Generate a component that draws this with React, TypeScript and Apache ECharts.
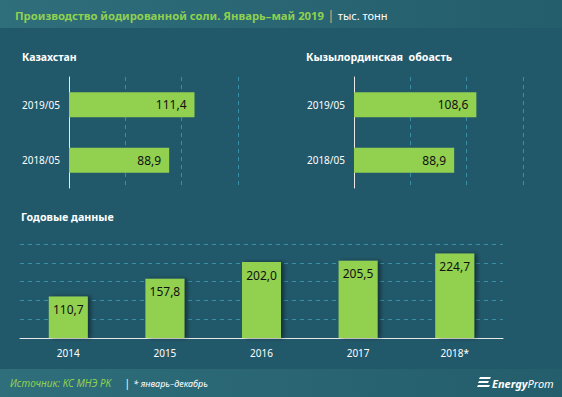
import React, { useEffect, useRef } from "react";
import * as echarts from "echarts";

const periodCats = ["2018/05", "2019/05"];
const kzValues = [88.9, 111.4];
const kyzValues = [88.9, 108.6];
const yearCats = ["2014", "2015", "2016", "2017", "2018*"];
const yearValues = [110.7, 157.8, 202.0, 205.5, 224.7];

const BG = "#22596a";
const GREEN = "#92d050";
const GRID = "#3a8fa8";
const FONT = "'Noto Sans', sans-serif";

const fmt = (v: number) => v.toFixed(1).replace(".", ",");

export default function App() {
  const ref = useRef<HTMLDivElement>(null);
  useEffect(() => {
    if (!ref.current) return;
    const chart = echarts.init(ref.current, null, { renderer: "svg" });
    const hBarSeries = (data: number[], idx: number) => ({
      type: "bar",
      xAxisIndex: idx,
      yAxisIndex: idx,
      data,
      barWidth: 25,
      itemStyle: { color: GREEN },
      label: {
        show: true,
        position: "insideRight",
        distance: 8,
        color: "#111",
        fontSize: 12,
        fontFamily: FONT,
        formatter: (p: any) => fmt(p.value),
      },
    });
    const hxAxis = (idx: number) => ({
      type: "value",
      gridIndex: idx,
      min: 0,
      max: 150,
      interval: 50,
      axisLabel: { show: false },
      axisLine: { show: false },
      axisTick: { show: false },
      splitLine: { show: true, lineStyle: { color: GRID, type: [4, 4], width: 1 } },
    });
    const hyAxis = (idx: number) => ({
      type: "category",
      gridIndex: idx,
      data: periodCats,
      axisLine: { show: true, lineStyle: { color: "#e8e8e8", width: 1 } },
      axisTick: { show: false },
      axisLabel: { color: "#ffffff", fontSize: 10, fontFamily: FONT, margin: 9 },
    });
    chart.setOption({
      animation: false,
      backgroundColor: BG,
      textStyle: { fontFamily: FONT },
      grid: [
        { left: 69, right: 324, top: 77, bottom: 209 },
        { left: 354, right: 39, top: 77, bottom: 209 },
        { left: 20, right: 59, top: 244, bottom: 59 },
      ],
      xAxis: [
        hxAxis(0),
        hxAxis(1),
        {
          type: "category",
          gridIndex: 2,
          data: yearCats,
          axisLine: { show: true, lineStyle: { color: "#e8e8e8", width: 1 } },
          axisTick: { show: false },
          axisLabel: { color: "#ffffff", fontSize: 10, fontFamily: FONT, margin: 10 },
        },
      ],
      yAxis: [
        hyAxis(0),
        hyAxis(1),
        {
          type: "value",
          gridIndex: 2,
          min: 0,
          max: 250,
          interval: 50,
          axisLabel: { show: false },
          axisLine: { show: false },
          axisTick: { show: false },
          splitLine: { show: true, lineStyle: { color: GRID, type: [4, 4], width: 1 } },
        },
      ],
      series: [
        hBarSeries(kzValues, 0),
        hBarSeries(kyzValues, 1),
        {
          type: "bar",
          xAxisIndex: 2,
          yAxisIndex: 2,
          data: yearValues,
          barWidth: 39,
          itemStyle: {
            color: GREEN,
            shadowColor: "rgba(0,0,0,0.45)",
            shadowBlur: 4,
            shadowOffsetX: 3,
            shadowOffsetY: 0,
          },
          label: {
            show: true,
            position: "insideTop",
            distance: 7,
            color: "#111",
            fontSize: 12,
            fontFamily: FONT,
            formatter: (p: any) => fmt(p.value),
          },
        },
      ],
      graphic: [
        {
          type: "rect",
          shape: { x: 0, y: 0, width: 562, height: 28 },
          style: {
            fill: new echarts.graphic.LinearGradient(0, 0, 1, 0, [
              { offset: 0, color: "#2f6e7b" },
              { offset: 1, color: "#245d6b" },
            ]),
          },
          z: 0,
        },
        {
          type: "text",
          x: 15,
          y: 15,
          style: {
            text: "{a|Производство йодированной соли. Январь–май 2019} {b||} {c|тыс. тонн}",
            verticalAlign: "middle",
            rich: {
              a: { fill: "#8fd14f", fontSize: 11.3, fontWeight: "bold", fontFamily: FONT },
              b: { fill: "#f0a070", fontSize: 13, fontFamily: FONT },
              c: { fill: "#ffffff", fontSize: 11, fontFamily: FONT },
            },
          },
        },
        {
          type: "text",
          x: 22,
          y: 57,
          style: { text: "Казахстан", fill: "#ffffff", fontSize: 10.5, fontWeight: "bold", fontFamily: FONT, verticalAlign: "middle" },
        },
        {
          type: "text",
          x: 306,
          y: 57,
          style: { text: "Кызылординская  обоасть", fill: "#ffffff", fontSize: 10.7, fontWeight: "bold", fontFamily: FONT, verticalAlign: "middle" },
        },
        {
          type: "text",
          x: 21,
          y: 217,
          style: { text: "Годовые данные", fill: "#ffffff", fontSize: 10.7, fontWeight: "bold", fontFamily: FONT, verticalAlign: "middle" },
        },
        {
          type: "rect",
          shape: { x: 0, y: 369, width: 562, height: 28 },
          style: {
            fill: new echarts.graphic.LinearGradient(0, 0, 1, 0, [
              { offset: 0, color: "#2f6e7b" },
              { offset: 1, color: "#245d6b" },
            ]),
          },
          z: 0,
        },
        {
          type: "text",
          x: 10,
          y: 383,
          style: {
            text: "{a|Источник: КС МНЭ РК}    {b||} {c|* январь–декабрь}",
            verticalAlign: "middle",
            rich: {
              a: { fill: "#8fd14f", fontSize: 10, fontStyle: "italic", fontFamily: FONT },
              b: { fill: "#ffffff", fontSize: 10, fontFamily: FONT },
              c: { fill: "#ffffff", fontSize: 9, fontStyle: "italic", fontFamily: FONT },
            },
          },
        },
        {
          type: "group",
          children: [
            { type: "polygon", shape: { points: [[480, 377], [491, 377], [490, 379], [479, 379]] }, style: { fill: "#ffffff" } },
            { type: "polygon", shape: { points: [[479, 381], [489, 381], [488, 383], [478, 383]] }, style: { fill: "#ffffff" } },
            { type: "polygon", shape: { points: [[478, 385], [490, 385], [489, 387], [477, 387]] }, style: { fill: "#ffffff" } },
            {
              type: "text",
              x: 492,
              y: 383,
              style: {
                text: "{a|Energy}{b|Prom}",
                verticalAlign: "middle",
                rich: {
                  a: { fill: "#ffffff", fontSize: 11, fontWeight: "bold", fontStyle: "italic", fontFamily: FONT },
                  b: { fill: "#ffffff", fontSize: 11, fontStyle: "italic", fontFamily: FONT },
                },
              },
            },
          ],
        },
      ],
    });
    return () => chart.dispose();
  }, []);
  return (
    <div
      ref={ref}
      style={{ position: "absolute", left: 0, top: 0, width: 562, height: 397 }}
    />
  );
}
